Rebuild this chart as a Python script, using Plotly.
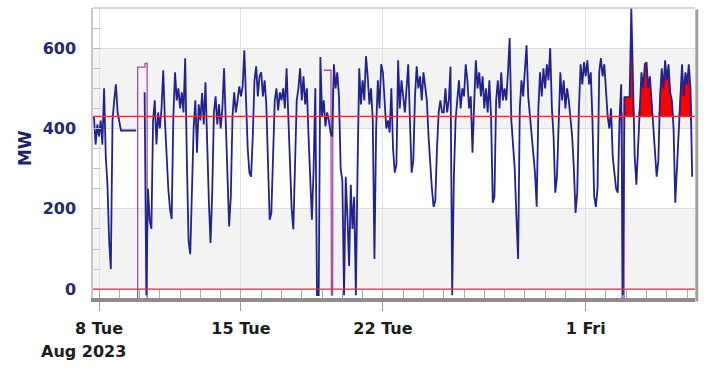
import numpy as np
import pandas as pd
import plotly.graph_objects as go

# ---- data (MW, 2-hourly readings, starting 2023-08-07 18:00) ----
aug07 = [430, 360, 410]
aug08 = [380, 420, 360, 500, 330, 260, 120, 50, 420, 470, 510, 440]
aug09 = [420, 395, 395, 395, 395, 395, 395, 395, 395, 395, 395, None]
aug10 = [None, None, None, 490, -15, 250, 170, 150, 420, 470, 360, 440]
aug11 = [400, 450, 545, 420, 330, 250, 200, 175, 430, 540, 470, 500]
aug12 = [450, 490, 440, 575, 320, 120, 87, 250, 400, 470, 340, 460]
aug13 = [420, 488, 410, 515, 330, 220, 115, 240, 440, 480, 410, 460]
aug14 = [400, 450, 550, 420, 250, 156, 230, 430, 490, 440, 470, 505]
aug15 = [480, 505, 595, 450, 350, 290, 280, 380, 520, 555, 480, 530]
aug16 = [540, 480, 520, 460, 300, 173, 190, 350, 470, 500, 445, 490]
aug17 = [470, 500, 450, 550, 420, 300, 200, 149, 300, 470, 500, 550]
aug18 = [470, 530, 460, 500, 380, 260, 173, 300, 500, -15, -15, 578]
aug19 = [430, 470, 405, 440, 420, 390, 380, 560, 500, 540, 480, 300]
aug20 = [270, -15, 280, 180, 58, 260, 150, 230, -15, 300, 550, 460]
aug21 = [520, 470, 580, 530, 460, 500, 420, 75, 400, 520, 450, 560]
aug22 = [540, 470, 400, 420, 390, 500, 350, 290, 310, 570, 450, 520]
aug23 = [480, 440, 500, 560, 420, 290, 320, 480, 555, 500, 530, 470]
aug24 = [540, 500, 470, 380, 300, 250, 205, 220, 350, 440, 470, 440]
aug25 = [440, 500, 440, 470, 554, -15, 280, 420, 470, 520, 450, 500]
aug26 = [480, 560, 520, 450, 480, 340, 460, 570, 500, 540, 480, 530]
aug27 = [450, 500, 440, 520, 430, 215, 230, 470, 520, 450, 540, 470]
aug28 = [500, 470, 540, 625, 420, 350, 300, 180, 75, 450, 520, 480]
aug29 = [550, 607, 480, 430, 380, 330, 290, 205, 450, 540, 480, 550]
aug30 = [500, 560, 520, 600, 450, 380, 240, 280, 430, 540, 470, 520]
aug31 = [450, 500, 470, 430, 380, 300, 190, 240, 450, 560, 510, 565]
sep01 = [530, 570, 510, 540, 420, 232, 205, 250, 540, 575, 530, 560]
sep02 = [500, 430, 400, 450, 330, 280, 250, 240, 420, 510, -15, 478]
sep03 = [478, 478, 478, 700, 470, 330, 260, 350, 470, 540, 500, 560]
sep04 = [565, 500, 530, 470, 400, 330, 280, 320, 480, 550, 500, 570]
sep05 = [520, 560, 490, 470, 400, 215, 300, 380, 500, 560, 480, 540]
sep06 = [510, 560, 500, 280]

series_start = "2023-08-07 18:00"
series_step = "2h"

# second (purple) series, only where it shows apart from the main one
purple_times = ["2023-08-09 21:45", "2023-08-09 21:45", "2023-08-10 06:30", "2023-08-10 06:30",
                "2023-08-10 09:00", "2023-08-10 09:00", None,
                "2023-08-19 02:00", "2023-08-19 10:30", "2023-08-19 11:00", "2023-08-19 12:30",
                "2023-08-19 12:45", None,
                "2023-09-02 19:00", "2023-09-02 19:00", "2023-09-02 21:30", "2023-09-02 21:30"]
purple_vals = [-22, 553, 553, 562, 562, -22, None,
               545, 545, -15, -15, 500, None,
               440, -22, -22, 478]

limit_value = 430
zero_value = 0
fill_from = "2023-09-02 22:00"

tick_dates = ["2023-08-08", "2023-08-15", "2023-08-22", "2023-09-01"]
tick_labels = ["8 Tue", "15 Tue", "22 Tue", "1 Fri"]
year_label = "Aug 2023"
y_ticks = [0, 200, 400, 600]
y_title = "MW"

x_range = ["2023-08-07 16:54", "2023-09-06 09:22"]
y_range = [-22, 700]

# ---- build ----
values = (aug07 + aug08 + aug09 + aug10 + aug11 + aug12 + aug13 + aug14 + aug15 + aug16 +
          aug17 + aug18 + aug19 + aug20 + aug21 + aug22 + aug23 + aug24 + aug25 + aug26 +
          aug27 + aug28 + aug29 + aug30 + aug31 + sep01 + sep02 + sep03 + sep04 + sep05 + sep06)
times = pd.date_range(series_start, periods=len(values), freq=series_step)
vals = np.array([np.nan if v is None else v for v in values], dtype=float)

mask = times >= pd.Timestamp(fill_from)
ft = times[mask]
fv = np.maximum(vals[mask], limit_value)

fig = go.Figure()
fig.add_trace(go.Scatter(x=ft, y=[limit_value] * len(ft), mode="lines",
                         line=dict(width=0, color="red"), hoverinfo="skip"))
fig.add_trace(go.Scatter(x=ft, y=fv, mode="lines", fill="tonexty",
                         fillcolor="#ff0000", line=dict(width=0, color="#ff0000"),
                         hoverinfo="skip"))
fig.add_trace(go.Scatter(x=purple_times, y=purple_vals, mode="lines",
                         line=dict(color="#a64ca6", width=1.3), connectgaps=False))
fig.add_trace(go.Scatter(x=times, y=vals, mode="lines",
                         line=dict(color="#22228e", width=1.8), connectgaps=False))

shapes = []
for lo, hi in [(0, 200), (400, 600)]:
    shapes.append(dict(type="rect", xref="paper", x0=0, x1=1, yref="y", y0=lo, y1=hi,
                       fillcolor="#f3f3f3", line=dict(width=0), layer="below"))
for yv in [limit_value, zero_value]:
    shapes.append(dict(type="line", xref="paper", x0=0, x1=1, yref="y", y0=yv, y1=yv,
                       line=dict(color="#e8303a", width=1.2), layer="above"))
shapes.append(dict(type="line", xref="paper", x0=0, x1=1, yref="paper", y0=1, y1=1,
                   line=dict(color="#c8c8c8", width=1.5)))
shapes.append(dict(type="line", xref="paper", x0=1.003, x1=1.003, yref="paper", y0=-0.012, y1=0.995,
                   line=dict(color="#a0a0a0", width=3)))

fig.update_layout(
    width=704, height=368,
    margin=dict(l=93, r=9, t=8, b=70),
    plot_bgcolor="white", paper_bgcolor="white",
    showlegend=False,
    shapes=shapes,
    xaxis=dict(type="date", range=x_range, tickmode="array",
               tickvals=tick_dates, ticktext=tick_labels,
               ticks="outside", ticklen=9, tickcolor="#999", tickwidth=1,
               showgrid=True, gridcolor="#e2e2e2",
               showline=True, linecolor="#8c8c8c", linewidth=4,
               tickfont=dict(family="DejaVu Sans", size=16, color="#1c1c1c", weight="bold"),
               ticklabelstandoff=4,
               minor=dict(dtick=86400000, tick0="2023-08-08", ticks="inside",
                          ticklen=8, tickcolor="#aaaaaa", showgrid=False)),
    yaxis=dict(range=y_range, tickmode="array", tickvals=y_ticks,
               ticks="inside", ticklen=8, tickcolor="#bbbbbb",
               showgrid=True, gridcolor="#dcdcdc", zeroline=False,
               showline=True, linecolor="#c8c8c8", linewidth=1.5,
               tickfont=dict(family="DejaVu Sans", size=16, color="#262670", weight="bold"),
               ticklabelstandoff=12,
               minor=dict(dtick=50, tick0=0, ticks="inside", ticklen=8,
                          tickcolor="#c4c4c4", showgrid=False)),
    annotations=[
        dict(text=year_label, xref="paper", yref="paper", x=-0.0166, y=-0.183,
             xanchor="center", yanchor="middle", showarrow=False,
             font=dict(family="DejaVu Sans", size=16, color="#1c1c1c", weight="bold")),
        dict(text=y_title, xref="paper", yref="paper", x=-0.113, y=0.517, textangle=-90,
             xanchor="center", yanchor="middle", showarrow=False,
             font=dict(family="DejaVu Sans", size=17, color="#1e1e6e", weight="bold")),
    ],
)

fig.write_html("out.html")
